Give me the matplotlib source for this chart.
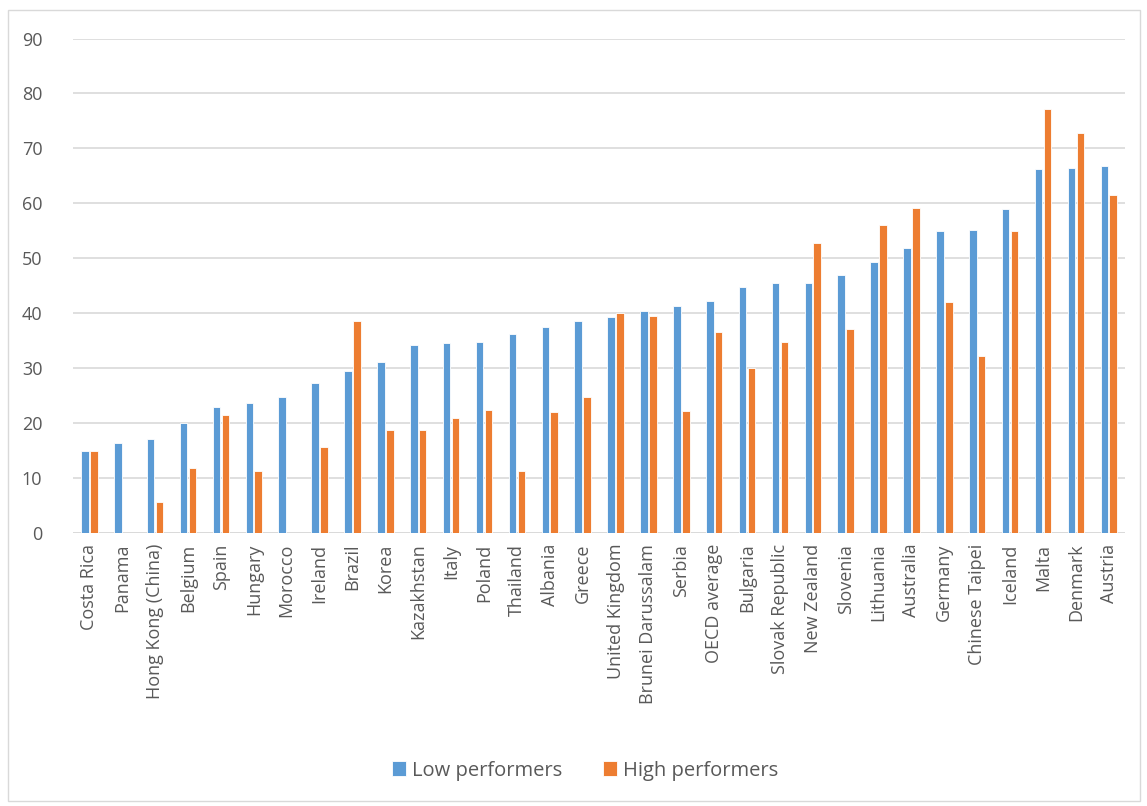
import matplotlib.pyplot as plt
import matplotlib.patches as mpatches
import numpy as np

countries = ["Costa Rica", "Panama", "Hong Kong (China)", "Belgium", "Spain", "Hungary",
             "Morocco", "Ireland", "Brazil", "Korea", "Kazakhstan", "Italy", "Poland",
             "Thailand", "Albania", "Greece", "United Kingdom", "Brunei Darussalam",
             "Serbia", "OECD average", "Bulgaria", "Slovak Republic", "New Zealand",
             "Slovenia", "Lithuania", "Australia", "Germany", "Chinese Taipei",
             "Iceland", "Malta", "Denmark", "Austria"]
low = [14.8, 16.3, 17.1, 20.0, 22.9, 23.6, 24.7, 27.3, 29.4, 31.1, 34.2, 34.5, 34.8,
       36.2, 37.4, 38.5, 39.3, 40.4, 41.3, 42.1, 44.8, 45.5, 45.5, 47.0, 49.2, 51.9,
       54.9, 55.2, 58.9, 66.3, 66.5, 66.8]
high = [14.8, 0, 5.5, 11.8, 21.4, 11.2, 0, 15.6, 38.5, 18.6, 18.6, 20.8, 22.3,
        11.3, 21.9, 24.6, 40.0, 39.5, 22.1, 36.5, 30.0, 34.7, 52.8, 37.0, 56.0, 59.2,
        42.0, 32.1, 55.0, 77.2, 72.7, 61.5]

plt.rcParams['font.family'] = ['Open Sans', 'DejaVu Sans']

def main():
    fig = plt.figure(figsize=(11.47, 8.06), dpi=100)
    ax = fig.add_axes([0.0636, 0.3393, 0.9174, 0.6129])
    fig.patches.append(mpatches.Rectangle((0.007, 0.006), 0.987, 0.982, transform=fig.transFigure,
                                          fill=False, edgecolor='#d9d9d9', linewidth=1))

    x = np.arange(len(countries))
    w = 0.23
    ax.bar(x - w / 2 - 0.02, low, w, color='#5b9bd5', edgecolor='white', linewidth=0.6,
           label='Low performers', zorder=3)
    ax.bar(x + w / 2 + 0.02, high, w, color='#ed7d31', edgecolor='white', linewidth=0.6,
           label='High performers', zorder=3)

    ax.set_xlim(-0.5, len(countries) - 0.5)
    ax.set_ylim(0, 90)
    ax.set_yticks(range(0, 91, 10))
    ax.yaxis.grid(True, color='#d9d9d9', linewidth=1.2, zorder=0)
    for s in ax.spines.values():
        s.set_visible(False)
    ax.axhline(0, color='#d9d9d9', linewidth=1.2, zorder=1)
    ax.tick_params(length=0, labelsize=13, colors='#595959', pad=8)
    ax.set_xticks(x)
    ax.set_xticklabels(countries, rotation=90)
    ax.tick_params(axis='y', pad=22)

    fig.legend(loc='center', bbox_to_anchor=(0.51, 0.044), ncol=2, frameon=False,
               fontsize=14.5, handlelength=0.7, handleheight=0.7, columnspacing=2.0,
               handletextpad=0.3, labelcolor='#595959')
    fig.savefig('out.png', dpi=100)

if __name__ == '__main__':
    main()
